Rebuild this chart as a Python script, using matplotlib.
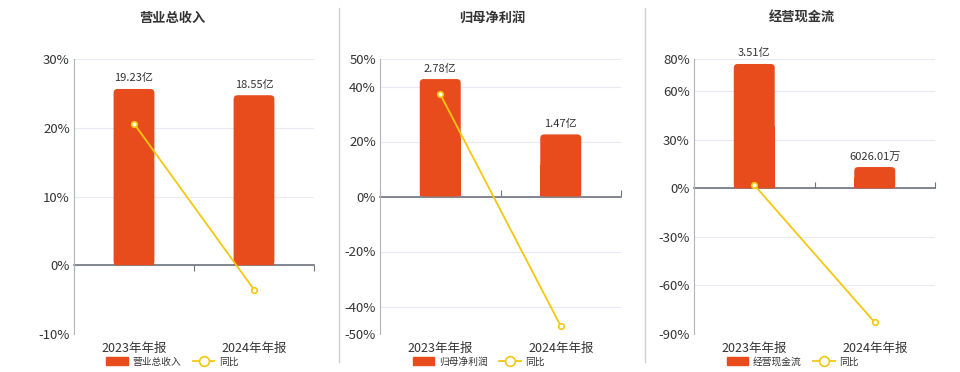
import matplotlib
matplotlib.use("Agg")
import matplotlib.pyplot as plt
from matplotlib.patches import FancyBboxPatch, Patch
from matplotlib.lines import Line2D

plt.rcParams['font.family'] = ['Noto Sans CJK SC', 'DejaVu Sans']

# ---- data ----
categories = ["2023年年报", "2024年年报"]
titles = ["营业总收入", "归母净利润", "经营现金流"]
bar_values = [[19.23, 18.55], [2.78, 1.47], [3.51, 0.6026]]  # 亿
bar_labels = [["19.23亿", "18.55亿"], ["2.78亿", "1.47亿"], ["3.51亿", "6026.01万"]]
yoy_values = [[20.6, -3.54], [37.2, -47.12], [2.1, -82.83]]  # %
pct_ticks = [[-10, 0, 10, 20, 30], [-50, -40, -20, 0, 20, 40, 50], [-90, -60, -30, 0, 30, 60, 80]]
bar_top = [22.5, 3.255, 3.65]

BAR_C = "#E84C1D"
LINE_C = "#F2C811"
GRID_C = "#E6EAF2"
TXT_C = "#333333"
AXIS_C = "#6E727A"

fig = plt.figure(figsize=(9.6, 3.72), dpi=100)
W, H = 960, 372
lefts = [74, 380, 694]
widths = [240, 241, 241]
top_px, bot_px = 59, 334
title_x = [172, 492, 802]

for i in range(3):
    ax = fig.add_axes([lefts[i] / W, 1 - bot_px / H, widths[i] / W, (bot_px - top_px) / H])
    ticks = pct_ticks[i]
    ymin, ymax = min(ticks), max(ticks)
    ax.set_ylim(ymin, ymax)
    ax.set_xlim(-0.5, 1.5)
    ax.set_yticks(ticks)
    ax.set_yticklabels([f"{t}%" for t in ticks], fontsize=9.5, color=TXT_C)
    ax.set_xticks([0, 1])
    ax.set_xticklabels(categories, fontsize=9, color=TXT_C)
    ax.tick_params(axis='both', length=0, pad=3)
    ax.tick_params(axis='x', pad=6)
    for t in ticks:
        ax.axhline(t, color=GRID_C, lw=0.8, zorder=0)
    for s in ["top", "right", "bottom"]:
        ax.spines[s].set_visible(False)
    ax.spines["left"].set_color("#B0B4BC")
    ax.spines["left"].set_linewidth(0.8)

    # bar axis
    bx = ax.twinx()
    bt = bar_top[i]
    bx.set_ylim(bt * ymin / ymax, bt)
    bx.set_xlim(-0.5, 1.5)
    bx.axis("off")
    bars = bx.bar([0, 1], bar_values[i], width=0.34, color=BAR_C, zorder=2)
    px_per_x = widths[i] / 2.0
    px_per_y = (bot_px - top_px) / (bt - bt * ymin / ymax)
    r_px = 4
    for rect in bars:
        x0, y0 = rect.get_x(), rect.get_y()
        w, h = rect.get_width(), rect.get_height()
        rect.set_visible(False)
        aspect = px_per_x / px_per_y
        fb = FancyBboxPatch((x0, y0), w, h,
                            boxstyle=f"round,pad=0,rounding_size={r_px / px_per_x}",
                            mutation_aspect=aspect, color=BAR_C, lw=0, zorder=2)
        bx.add_patch(fb)
        bx.add_patch(plt.Rectangle((x0, y0), w, h * 0.5, color=BAR_C, lw=0, zorder=2))
    for j, rect in enumerate(bars):
        bx.annotate(bar_labels[i][j], (rect.get_x() + rect.get_width() / 2, rect.get_height()),
                    xytext=(0, 4), textcoords="offset points", ha="center", va="bottom",
                    fontsize=8, color=TXT_C, zorder=5)

    # zero axis line with boundary ticks
    zfrac = (0 - ymin) / (ymax - ymin)
    sec = ax.secondary_xaxis(zfrac)
    sec.set_xticks([-0.5, 0.5, 1.5])
    sec.set_xticklabels(["", "", ""])
    sec.tick_params(direction="out", length=4, color=AXIS_C, width=0.8)
    for s in sec.spines.values():
        s.set_visible(False)
    sec.spines["bottom"].set_visible(True)
    sec.spines["bottom"].set_color(AXIS_C)
    sec.spines["bottom"].set_linewidth(1.2)

    # yoy line on top
    lx = ax.twinx()
    lx.set_ylim(ymin, ymax)
    lx.set_xlim(-0.5, 1.5)
    lx.axis("off")
    lx.plot([0, 1], yoy_values[i], color=LINE_C, lw=1.3, marker="o", markersize=4,
            markerfacecolor="white", markeredgecolor=LINE_C, markeredgewidth=1.2, zorder=6)

    # legend
    handles = [Patch(facecolor=BAR_C, edgecolor=BAR_C),
               Line2D([], [], color=LINE_C, lw=1.3, marker="o", markersize=7,
                      markerfacecolor="white", markeredgecolor=LINE_C, markeredgewidth=1.2)]
    ax.legend(handles, [titles[i], "同比"], ncol=2, loc="center",
              bbox_to_anchor=(0.41, -0.10), frameon=False, fontsize=7,
              handlelength=2.2, handleheight=0.9, columnspacing=1.2, handletextpad=0.5,
              labelcolor=TXT_C)

    fig.text(title_x[i] / W, 1 - 18 / H, titles[i], ha="center", va="center",
             fontsize=9.5, fontweight="bold", color=TXT_C)

# panel separators
for xs in [339, 645]:
    fig.add_artist(Line2D([xs / W, xs / W], [1 - 8 / H, 1 - 362 / H], color="#D0D0D0", lw=1))

fig.savefig("out.png", dpi=100)
